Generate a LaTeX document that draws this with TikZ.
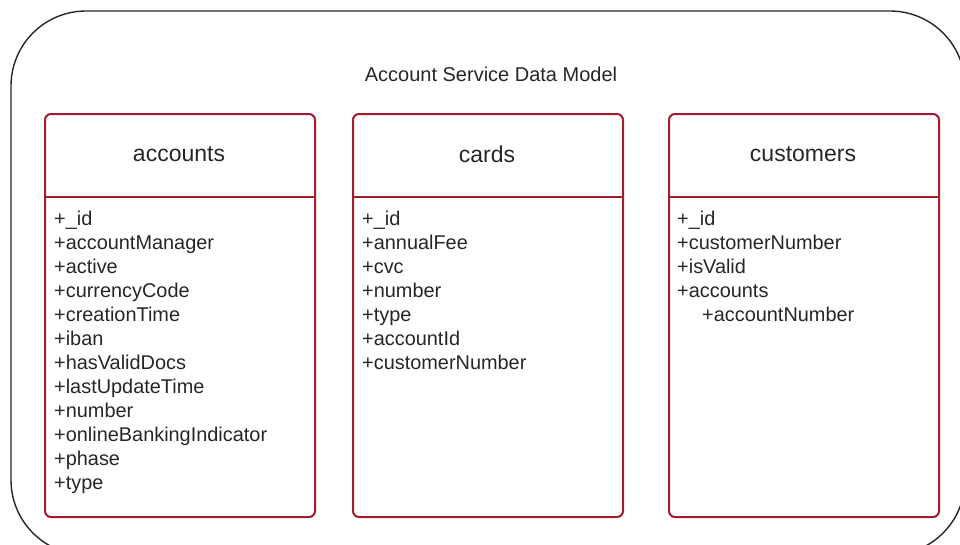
\documentclass[tikz,border=0pt]{standalone}
\usepackage{fontspec}
\setmainfont{Liberation Sans}
\definecolor{tableRed}{RGB}{162,26,46}
\definecolor{ink}{RGB}{38,38,38}
\begin{document}
\begin{tikzpicture}[x=1pt,y=-1pt,
  frame/.style={draw=black!85, line width=1.4pt, rounded corners=75pt},
  title/.style={font=\fontsize{20}{24}\selectfont, text=ink},
  tablebox/.style={draw=tableRed, line width=2pt, rounded corners=6pt,
    minimum width=270pt, minimum height=403pt, anchor=north west, inner sep=0pt},
  sep/.style={draw=tableRed, line width=2pt},
  head/.style={font=\fontsize{23}{28}\selectfont, text=ink},
  field/.style={font=\fontsize{19.9}{24}\selectfont, text=ink, anchor=base west, inner sep=0pt}]
\useasboundingbox (0,0) rectangle (960,544);
\clip (0,0) rectangle (960,544);

% surrounding container
\draw[frame] (11,11) rectangle (965,555);
\node[title] (title) at (491,74) {Account Service Data Model};

% table boxes
\node[tablebox] (acc) at (44,113) {};
\node[tablebox] (crd) at (352,113) {};
\node[tablebox] (cus) at (668,113) {};

% header separators and titles
\foreach \b/\h in {acc/accounts, crd/cards, cus/customers} {
  \draw[sep] ([yshift=-84pt]\b.north west) -- ([yshift=-84pt]\b.north east);
  \node[head] (\b-head) at ([xshift=-1pt,yshift=-41pt]\b.north) {\h};
}

% accounts fields
\foreach \t [count=\i from 0] in {+\_id, +accountManager, +active, +currencyCode,
    +creationTime, +iban, +hasValidDocs, +lastUpdateTime, +number,
    +onlineBankingIndicator, +phase, +type}
  \node[field] (acc-f\i) at (54, {225+24*\i}) {\t};

% cards fields
\foreach \t [count=\i from 0] in {+\_id, +annualFee, +cvc, +number, +type,
    +accountId, +customerNumber}
  \node[field] (crd-f\i) at (362, {225+24*\i}) {\t};

% customers fields
\foreach \t [count=\i from 0] in {+\_id, +customerNumber, +isValid, +accounts}
  \node[field] (cus-f\i) at (677, {225+24*\i}) {\t};
\node[field] (cus-f4) at (702, 321) {+accountNumber};
\end{tikzpicture}
\end{document}
